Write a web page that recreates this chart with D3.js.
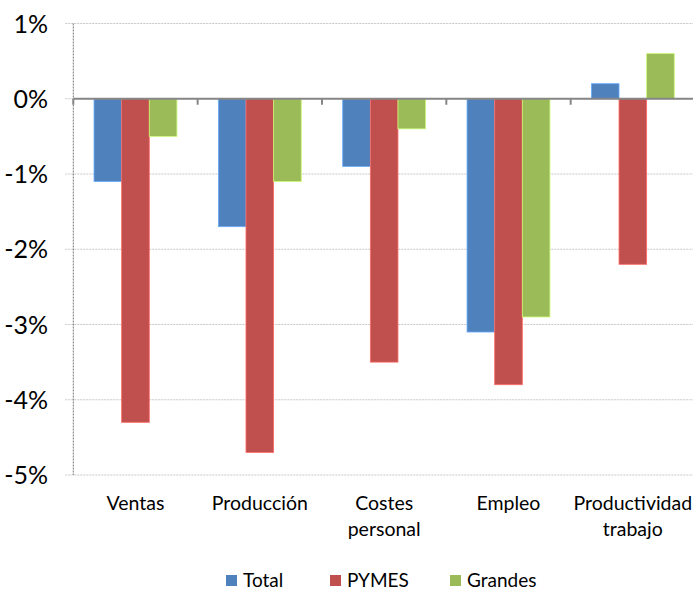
<html>
<head><meta charset="utf-8"></head>
<script src="https://d3js.org/d3.v7.min.js"></script>
<body style="margin:0">
<style>
  body { font-family: Lato, "Open Sans", sans-serif; background: #fff; }
  .grid line { stroke: #c8c8c8; stroke-dasharray: 2,1; }
</style>
<svg width="693" height="591"></svg>
<script>
var categories = [["Ventas"], ["Producción"], ["Costes", "personal"], ["Empleo"], ["Productividad", "trabajo"]];
var seriesNames = ["Total", "PYMES", "Grandes"];
var total   = [-1.1, -1.7, -0.9, -3.1, 0.2];
var pymes   = [-4.3, -4.7, -3.5, -3.8, -2.2];
var grandes = [-0.5, -1.1, -0.4, -2.9, 0.6];
var yTicks = [1, 0, -1, -2, -3, -4, -5];
var colors = ["#4F81BD", "#C0504D", "#9BBB59"];

var plotLeft = 73.3, plotRight = 695, plotTop = 23.5, plotBottom = 475;
var svg = d3.select("svg");

var x = d3.scaleBand()
    .domain(d3.range(categories.length))
    .range([plotLeft, plotRight]);

var y = d3.scaleLinear()
    .domain([-5, 1])
    .range([plotBottom, plotTop]);

var x1 = d3.scaleBand()
    .domain(d3.range(3))
    .range([0, x.bandwidth()])
    .paddingOuter(0.75)
    .paddingInner(0);

// gridlines
svg.append("g").attr("class", "grid")
  .selectAll("line").data(yTicks).enter().append("line")
    .attr("x1", plotLeft - 8).attr("x2", plotRight)
    .attr("y1", function(d) { return y(d); })
    .attr("y2", function(d) { return y(d); });

// left axis line
svg.append("line")
  .attr("x1", plotLeft).attr("x2", plotLeft)
  .attr("y1", plotTop).attr("y2", plotBottom)
  .attr("stroke", "#777").attr("stroke-dasharray", "2,1");

// y labels
svg.append("g").selectAll("text").data(yTicks).enter().append("text")
  .attr("x", 48)
  .attr("y", function(d) { return y(d); })
  .attr("dy", "0.36em")
  .attr("text-anchor", "end")
  .style("font-size", "25px")
  .text(function(d) { return d + "%"; });

// bars
var series = [total, pymes, grandes];
series.forEach(function(vals, s) {
  svg.append("g").selectAll("rect").data(vals).enter().append("rect")
    .attr("x", function(d, i) { return x(i) + x1(s); })
    .attr("width", x1.bandwidth())
    .attr("y", function(d) { return y(Math.max(0, d)); })
    .attr("height", function(d) { return Math.abs(y(d) - y(0)); })
    .attr("fill", colors[s])
    .attr("stroke", d3.color(colors[s]).brighter(0.8))
    .attr("stroke-width", 0.8);
});

// zero line
svg.append("line")
  .attr("x1", plotLeft).attr("x2", plotRight)
  .attr("y1", y(0)).attr("y2", y(0))
  .attr("stroke", "#868686").attr("stroke-width", 2.2);

// category ticks
svg.append("g").selectAll("line").data(d3.range(categories.length + 1)).enter().append("line")
  .attr("x1", function(i) { return plotLeft + i * x.step(); })
  .attr("x2", function(i) { return plotLeft + i * x.step(); })
  .attr("y1", y(0)).attr("y2", y(0) + 6)
  .attr("stroke", "#868686").attr("stroke-width", 2);

// category labels
categories.forEach(function(lines, i) {
  var t = svg.append("text")
    .attr("text-anchor", "middle")
    .style("font-size", "19.5px")
    .attr("x", x(i) + x.bandwidth() / 2)
    .attr("y", 510);
  lines.forEach(function(l, k) {
    t.append("tspan").attr("x", x(i) + x.bandwidth() / 2).attr("dy", k ? 26 : 0).text(l);
  });
});

// legend
var legendX = [226, 330, 450];
seriesNames.forEach(function(n, s) {
  svg.append("rect").attr("x", legendX[s]).attr("y", 575).attr("width", 11).attr("height", 11)
    .attr("fill", colors[s]);
  svg.append("text").attr("x", legendX[s] + 17).attr("y", 580.5).attr("dy", "0.36em")
    .style("font-size", "19px").text(n);
});
</script>
</body>
</html>
